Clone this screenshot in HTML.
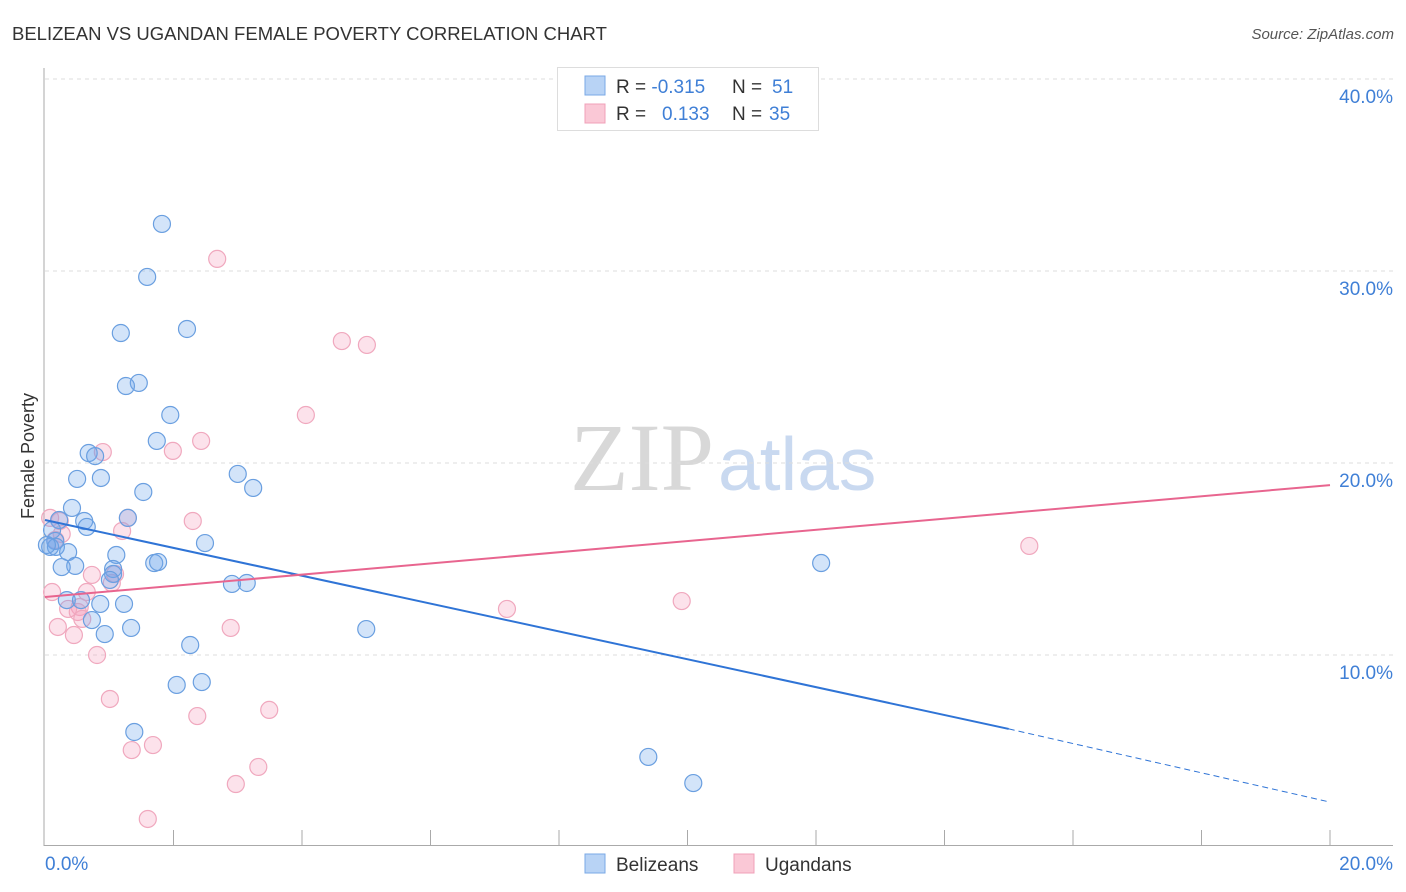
<!DOCTYPE html>
<html><head><meta charset="utf-8"><style>
body{margin:0;background:#fff;font-family:"Liberation Sans",sans-serif}
svg{display:block}
</style></head><body>
<svg id="c" width="1406" height="892">
<text x="12" y="40" font-size="18.5" fill="#333">BELIZEAN VS UGANDAN FEMALE POVERTY CORRELATION CHART</text>
<text x="1394" y="39" font-size="15" fill="#555" font-style="italic" text-anchor="end">Source: ZipAtlas.com</text>
<text x="714" y="490" font-size="96" fill="#d8d8d8" font-family="Liberation Serif,serif" text-anchor="end">ZIP</text>
<text x="718" y="490" font-size="75" fill="#c9d9f0">atlas</text>
<text x="34" y="456" font-size="18" fill="#333" text-anchor="middle" transform="rotate(-90 34 456)">Female Poverty</text>
<g id="grid"></g><g id="pts"></g><g id="lines"></g>
<g>
<rect x="557.500" y="67.500" width="261" height="63" fill="#fff" stroke="#ddd"/>
<rect x="585" y="76" width="20" height="19" fill="#b8d3f5" stroke="#7aa8e6"/>
<rect x="585" y="104" width="20" height="19" fill="#fac8d6" stroke="#f0a0b8"/>
<text x="616" y="93" font-size="19" fill="#333">R = <tspan fill="#3f7fd6">-0.315</tspan><tspan x="732">N = </tspan><tspan fill="#3f7fd6" x="772">51</tspan></text>
<text x="616" y="120" font-size="19" fill="#333">R = <tspan fill="#3f7fd6" x="662">0.133</tspan><tspan x="732">N = </tspan><tspan fill="#3f7fd6" x="769">35</tspan></text>
</g>
<g>
<rect x="585" y="854" width="20" height="19" fill="#b8d3f5" stroke="#7aa8e6"/>
<text x="616" y="871" font-size="19" fill="#333">Belizeans</text>
<rect x="734" y="854" width="20" height="19" fill="#fac8d6" stroke="#f0a0b8"/>
<text x="765" y="871" font-size="19" fill="#333">Ugandans</text>
</g>
</svg>
<script>
const yTicks=[10,20,30,40];
const xTickLabels=["0.0%","20.0%"];
const blueX=[1.82,1.59,1.18,2.21,1.46,1.26,1.95,1.74,0.68,0.78,0.50,0.87,3.00,3.24,1.53,0.42,0.61,0.65,1.29,0.22,0.11,0.16,0.08,0.17,0.03,0.36,2.49,1.11,1.70,1.76,0.47,0.26,1.06,1.06,1.01,2.91,3.14,0.34,0.56,0.86,1.23,0.73,1.34,0.93,5.00,2.26,2.05,2.44,1.39,9.39,10.09,12.08];
const blueY=[32.45,29.69,26.77,26.98,24.17,24.01,22.5,21.15,20.52,20.36,19.17,19.22,19.43,18.70,18.49,17.66,16.98,16.67,17.14,17.03,16.51,15.94,15.63,15.63,15.73,15.36,15.83,15.21,14.79,14.84,14.64,14.58,14.48,14.22,13.91,13.70,13.75,12.86,12.86,12.66,12.66,11.82,11.41,11.09,11.35,10.52,8.44,8.59,5.99,4.69,3.33,14.79];
const pinkX=[2.68,4.62,5.01,4.06,0.90,1.99,2.43,1.29,2.30,0.08,0.23,0.26,1.20,0.16,0.73,1.09,1.04,0.11,0.65,0.54,0.36,0.51,0.58,0.20,0.45,2.89,0.81,7.19,9.91,15.32,1.01,2.37,3.49,1.35,1.68,3.32,2.97,1.60];
const pinkY=[30.63,26.35,26.15,22.5,20.57,20.63,21.15,17.14,16.98,17.14,16.98,16.30,16.46,15.99,14.17,14.22,13.75,13.28,13.28,12.5,12.40,12.24,11.88,11.46,11.04,11.41,10.0,12.40,12.81,15.68,7.71,6.82,7.14,5.05,5.31,4.17,3.28,1.46];
const blueLine=[17.03,6.15,2.34]; // at x=0, 15, 20
const pinkLine=[13.02,18.85];     // at x=0, 20
const X=v=>45+v*64.25, Y=v=>847-v*19.2;
const NS="http://www.w3.org/2000/svg";
function mk(p,t,a){const e=document.createElementNS(NS,t);for(const k in a)e.setAttribute(k,a[k]);p.appendChild(e);return e;}
const g=document.getElementById('grid');
yTicks.forEach(t=>{
 const l=mk(g,'line',{x1:45,x2:1393,y1:Y(t),y2:Y(t),stroke:'#ddd','stroke-dasharray':'4,4'});
 
 
 const tx=mk(g,'text',{x:1393,y:Y(t)+24,'font-size':19,fill:'#3f7fd6','text-anchor':'end'});
 tx.textContent=t.toFixed(1)+'%';
 
 
});
mk(g,'line',{x1:44,x2:44,y1:68,y2:846,stroke:'#aaa'});
mk(g,'line',{x1:44,x2:1393,y1:845.5,y2:845.5,stroke:'#aaa'});
for(let i=1;i<=10;i++){const x=X(i*2);mk(g,'line',{x1:x,x2:x,y1:830,y2:845,stroke:'#aaa'});}
xTickLabels.forEach((s,i)=>{
 const tx=mk(g,'text',{x:i?1393:45,y:870,'font-size':19,fill:'#3f7fd6','text-anchor':i?'end':'start'});
 tx.textContent=s;
 
 
});
const p=document.getElementById('pts');
pinkX.forEach((x,i)=>{
 const c=mk(p,'circle',{cx:X(x),cy:Y(pinkY[i]),r:8.5,fill:'rgba(246,160,190,0.3)',stroke:'#f0a8be','stroke-width':1.2});
 
 
});
blueX.forEach((x,i)=>{
 const c=mk(p,'circle',{cx:X(x),cy:Y(blueY[i]),r:8.5,fill:'rgba(110,165,235,0.3)',stroke:'#6a9fe0','stroke-width':1.2});
 
 
});
const L=document.getElementById('lines');
const b1=mk(L,'line',{x1:X(0),y1:Y(blueLine[0]),x2:X(15),y2:Y(blueLine[1]),stroke:'#2f74d6','stroke-width':2});


const b2=mk(L,'line',{x1:X(15),y1:Y(blueLine[1]),x2:X(20),y2:Y(blueLine[2]),stroke:'#2f74d6','stroke-width':1,'stroke-dasharray':'6,4'});


const p1=mk(L,'line',{x1:X(0),y1:Y(pinkLine[0]),x2:X(20),y2:Y(pinkLine[1]),stroke:'#e8658f','stroke-width':2});


</script>
</body></html>
